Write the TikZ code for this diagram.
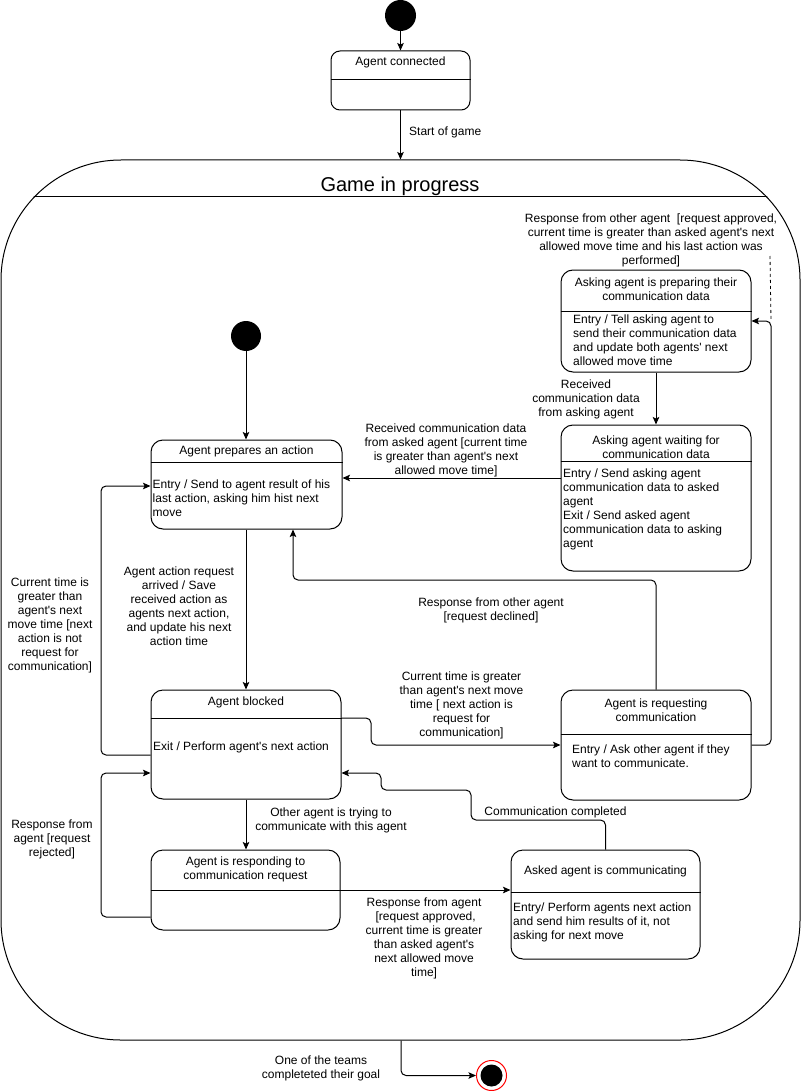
\documentclass[tikz,border=0pt]{standalone}
\usepackage{fontspec}
\setmainfont{Liberation Sans}[Ligatures=TeXOff]
\usetikzlibrary{arrows.meta}
\newcommand{\fsn}{\fontsize{12}{14}\selectfont}
\newcommand{\fst}{\fontsize{20}{24}\selectfont}

\begin{document}
\begin{tikzpicture}[x=1pt,y=-1pt,
  every node/.style={font=\fsn, text=black},
  stbox/.style={draw, line width=1pt, rounded corners=12pt, fill=white, inner sep=0pt},
  lbl/.style={align=center, inner sep=0pt},
  body/.style={align=left, inner sep=0pt, anchor=west},
  tip/.style={-{Stealth[length=7.5pt,width=6.5pt,inset=1.5pt]}},
  conn/.style={line width=1pt, rounded corners=5pt, tip},
  sep/.style={line width=1pt},
  initst/.style={circle, fill=black, inner sep=0pt},
]
\useasboundingbox (0,0) rectangle (801,1091);

% outer composite state
\node[draw, line width=1pt, rounded corners=120pt, minimum width=799pt,
      minimum height=880pt, inner sep=0pt] (game) at (400.5,600) {};
\begin{scope}
  \clip[rounded corners=120pt] (game.north west) rectangle (game.south east);
  \draw[sep] (0,197) -- (801,197);
\end{scope}
\node[font=\fst] (gtitle) at (400,186) {Game in progress};

% initial states
\node[initst, minimum size=31pt] (init) at (400.5,15.5) {};
\node[initst, minimum size=30pt] (init2) at (246,336) {};

% Agent connected
\node[stbox, rounded corners=9pt, minimum width=139pt, minimum height=59pt] (conn) at (400.5,80.5) {};
\draw[sep] (conn.west |- 0,80) -- (conn.east |- 0,80);
\node (connT) at (400.5,62) {Agent connected};

% Agent prepares an action
\node[stbox, minimum width=191pt, minimum height=89pt] (prep) at (246.5,484.5) {};
\draw[sep] (prep.west |- 0,462) -- (prep.east |- 0,462);
\node (prepT) at (246.5,451) {Agent prepares an action};
\node[body] (prepB) at (152.5,498) {Entry / Send to agent result of his\\last action, asking him hist next\\move};

% Agent blocked
\node[stbox, minimum width=190pt, minimum height=109pt] (blk) at (246,744.5) {};
\draw[sep] (blk.west |- 0,718) -- (blk.east |- 0,718);
\node (blkT) at (246,702) {Agent blocked};
\node[body] (blkB) at (153,747) {Exit / Perform agent's next action};

% Agent is responding to communication request
\node[stbox, minimum width=189pt, minimum height=80pt] (resp) at (245.5,890) {};
\draw[sep] (resp.west |- 0,890) -- (resp.east |- 0,890);
\node[lbl] (respT) at (245.5,869.5) {Agent is responding to\\communication request};

% Asking agent is preparing their communication data
\node[stbox, minimum width=190pt, minimum height=102pt] (prepc) at (656,321) {};
\draw[sep] (prepc.west |- 0,311) -- (prepc.east |- 0,311);
\node[lbl] (prepcT) at (656,289.5) {Asking agent is preparing their\\communication data};
\node[body] (prepcB) at (573,340) {Entry / Tell asking agent to\\send their communication data\\and update both agents' next\\allowed move time};

% Asking agent waiting for communication data
\node[stbox, minimum width=190pt, minimum height=146pt] (wait) at (656,498) {};
\draw[sep] (wait.west |- 0,461) -- (wait.east |- 0,461);
\node[lbl] (waitT) at (656,447.5) {Asking agent waiting for\\communication data};
\node[body] (waitB) at (563,509) {Entry / Send asking agent\\communication data to asked\\agent\\Exit / Send asked agent\\communication data to asking\\agent};

% Agent is requesting communication
\node[stbox, minimum width=190pt, minimum height=110pt] (req) at (656,745) {};
\draw[sep] (req.west |- 0,734) -- (req.east |- 0,734);
\node[lbl] (reqT) at (656,710) {Agent is requesting\\communication};
\node[body] (reqB) at (572,756) {Entry / Ask other agent if they\\want to communicate.};

% Asked agent is communicating
\node[stbox, minimum width=189pt, minimum height=109pt] (comm) at (605.5,904.5) {};
\draw[sep] (comm.west |- 0,892) -- (comm.east |- 0,892);
\node (commT) at (605.5,871) {Asked agent is communicating};
\node[body] (commB) at (513,922) {Entry/ Perform agents next action\\and send him results of it, not\\asking for next move};

% final state
\node[circle, draw=red, line width=1pt, fill=white, minimum size=30pt, inner sep=0pt] (fin) at (491.5,1075.5) {};
\node[initst, minimum size=22pt] (finin) at (fin.center) {};

% transitions
\draw[conn] (init) -- (conn);
\draw[conn] (conn) -- (game.north -| conn.south);
\node[anchor=west, inner sep=0pt] (lStart) at (409,132) {Start of game};

\draw[conn] (init2) -- (prep.north -| init2.south);

\draw[conn] (prep.south -| blk.north) -- (blk.north);
\node[lbl] (lAct) at (179,606) {Agent action request\\arrived / Save\\received action as\\agents next action,\\and update his next\\action time};

\draw[conn] (blk.west |- 0,755) -- (101,755) -- (101,486) -- (prep.west |- 0,486);
\node[lbl] (lNext) at (50,625) {Current time is\\greater than\\agent's next\\move time [next\\action is not\\request for\\communication]};

\draw[conn] (blk.east |- 0,718) -- (371,718) -- (371,745) -- (req.west);
\node[lbl] (lReq) at (461.5,705) {Current time is greater\\than agent's next move\\time {[} next action is\\request for\\communication]};

\draw[conn] (req.north) -- (656,580) -- (293,580) -- (prep.south -| 293,0);
\node[lbl] (lDecl) at (491,610) {Response from other agent\\{[}request declined]};

\coordinate (bendR) at (771,321);
\draw[conn] (req.east) -- (771,745) -- (bendR) -- (prepc.east |- bendR);
\node[lbl] (lAppr) at (651,240.5) {Response from other agent\ \ {[}request approved,\\current time is greater than asked agent's next\\allowed move time and his last action was\\performed]};
\coordinate (dashTop) at (770,256);
\draw[dashed, line width=0.8pt] (dashTop) -- (bendR);

\draw[conn] (prepc.south) -- (wait.north);
\node[lbl] (lRecv1) at (586,399) {Received\\communication data\\from asking agent};

\draw[conn] (wait.west |- 0,478) -- (prep.east |- 0,478);
\node[lbl] (lRecv2) at (446,450) {Received communication data\\from asked agent {[}current time\\is greater than agent's next\\allowed move time]};

\draw[conn] (blk.south) -- (resp.north -| blk.south);
\node[lbl] (lOther) at (331,820) {Other agent is trying to\\communicate with this agent};

\draw[conn] (resp.west |- 0,917) -- (101,917) -- (101,773) -- (blk.west |- 0,773);
\node[lbl] (lRej) at (52,839) {Response from\\agent {[}request\\rejected]};

\draw[conn] (resp.east |- 0,890) -- (comm.west |- 0,890);
\node[lbl] (lAppr2) at (424,938.5) {Response from agent\\\ {[}request approved,\\current time is greater\\than asked agent's\\next allowed move\\time]};

\draw[conn] (comm.north) -- (605.5,820) -- (471,820) -- (471,790) -- (381,790) -- (381,773) -- (blk.east |- 0,773);
\node[lbl] (lDone) at (555.5,812) {Communication completed};

\draw[conn] (game.south -| 401,0) -- (401,1075.5) -- (fin.west);
\node[lbl] (lEnd) at (321,1068.5) {One of the teams\\completeted their goal};
\end{tikzpicture}
\end{document}
